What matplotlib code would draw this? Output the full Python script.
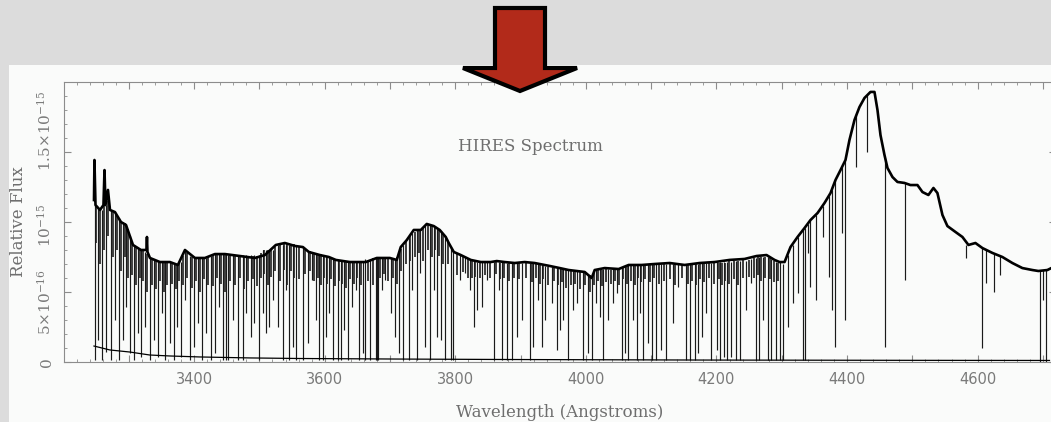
import matplotlib.pyplot as plt
from matplotlib.patches import Polygon, Rectangle
from matplotlib.ticker import MultipleLocator
from matplotlib.transforms import ScaledTranslation

plt.rcParams['mathtext.fontset'] = 'dejavuserif'

# upper envelope of the spectrum (flux in units of 1e-16)
cont_wave = [3246.7, 3247.4, 3249.0, 3255.9, 3261.2, 3262.8, 3264.3, 3268.1, 3271.2, 3278.8,
             3288.0, 3295.7, 3306.4, 3318.6, 3327.0, 3327.8, 3328.6, 3332.4, 3347.7, 3363.0,
             3375.2, 3386.0, 3401.3, 3416.6, 3431.9, 3447.2, 3470.1, 3493.1, 3508.4, 3525.2,
             3539.0, 3554.3, 3566.6, 3575.7, 3592.6, 3606.3, 3617.1, 3638.5, 3663.0, 3679.8,
             3699.7, 3710.4, 3716.5, 3725.7, 3736.4, 3747.2, 3756.3, 3767.0, 3776.2, 3785.4,
             3790.0, 3797.7, 3808.4, 3823.7, 3839.0, 3854.3, 3863.5, 3875.7, 3891.0, 3906.3,
             3921.6, 3944.6, 3959.9, 3973.7, 3998.2, 4008.9, 4013.5, 4028.8, 4050.2, 4065.5,
             4085.4, 4105.3, 4128.3, 4151.2, 4174.2, 4197.1, 4220.1, 4243.0, 4261.4, 4276.7,
             4289.0, 4296.6, 4304.3, 4313.4, 4324.2, 4334.9, 4344.0, 4354.8, 4365.5, 4374.7,
             4382.3, 4390.0, 4397.6, 4403.7, 4411.4, 4419.0, 4426.7, 4435.9, 4442.0, 4446.6,
             4451.2, 4457.3, 4461.9, 4469.6, 4477.2, 4487.9, 4497.1, 4507.8, 4515.5, 4524.6,
             4532.3, 4538.4, 4546.1, 4553.7, 4566.0, 4576.7, 4585.9, 4596.6, 4607.3, 4622.6,
             4637.9, 4653.2, 4668.5, 4683.8, 4693.0, 4706.8, 4712.9]
cont_flux = [11.57, 14.43, 11.21, 10.86, 11.21, 13.71, 11.21, 12.29, 10.86, 10.71,
             10.0, 9.79, 8.36, 8.0, 8.0, 8.93, 7.86, 7.43, 7.14, 7.14,
             6.93, 8.0, 7.43, 7.43, 7.71, 7.71, 7.57, 7.43, 7.64, 8.36,
             8.5, 8.29, 8.21, 7.86, 7.64, 7.5, 7.29, 7.14, 7.14, 7.43,
             7.43, 7.29, 8.21, 8.71, 9.43, 9.43, 9.86, 9.71, 9.43, 8.93,
             8.5, 7.86, 7.64, 7.29, 7.14, 7.14, 7.21, 7.14, 7.07, 7.14,
             7.07, 6.86, 6.71, 6.57, 6.43, 6.0, 6.57, 6.71, 6.64, 6.93,
             6.93, 7.0, 7.07, 6.93, 7.07, 7.14, 7.29, 7.36, 7.57, 7.64,
             7.29, 7.14, 7.14, 8.21, 8.93, 9.57, 10.14, 10.64, 11.36, 12.07,
             13.0, 13.71, 14.43, 15.86, 17.29, 18.21, 18.86, 19.29, 19.29, 18.0,
             16.21, 14.79, 13.86, 13.21, 12.86, 12.79, 12.64, 12.64, 12.14, 11.93,
             12.43, 12.07, 10.5, 9.71, 9.29, 8.93, 8.36, 8.5, 8.14, 7.79,
             7.5, 7.07, 6.71, 6.57, 6.5, 6.57, 6.71]

# error spectrum along the bottom
err_wave = [3246.7, 3271.0, 3302.0, 3332.0, 3363.0, 3409.0, 3486.0, 3562.0, 3716.0,
            3869.0, 4175.0, 4481.0, 4710.0]
err_flux = [1.14, 0.86, 0.71, 0.5, 0.43, 0.36, 0.29, 0.25, 0.21, 0.18, 0.14, 0.12, 0.11]

# strong absorption lines: wavelength, bottom of the line, continuum at the line
line_wave = [3248.7, 3252.8, 3258.9, 3265.0, 3272.2, 3278.4, 3284.5, 3291.1, 3296.1, 3301.3,
             3307.9, 3314.0, 3319.1, 3325.2, 3331.9, 3338.0, 3344.6, 3350.8, 3355.8, 3362.5,
             3369.1, 3374.2, 3380.3, 3386.4, 3393.1, 3399.7, 3405.9, 3412.0, 3418.6, 3425.3,
             3431.4, 3437.5, 3444.1, 3449.2,
             3451.3, 3459.0, 3466.6, 3474.3, 3479.3, 3487.0, 3492.0, 3499.7, 3504.9, 3509.9,
             3515.0, 3520.2, 3527.8, 3535.5, 3540.5, 3545.6, 3550.8, 3555.8, 3566.1, 3573.7,
             3580.3, 3586.4, 3591.5, 3596.7, 3601.8, 3606.8, 3612.0, 3619.7, 3624.7, 3629.8,
             3635.0, 3641.5, 3647.7, 3652.7, 3658.8,
             3662.5, 3669.1, 3678.3, 3680.3, 3682.1, 3687.9, 3693.1, 3700.8, 3708.4, 3713.5,
             3720.1, 3728.8, 3733.8, 3741.5, 3746.7, 3754.3, 3760.9, 3767.0, 3772.1, 3778.2,
             3785.0, 3793.5, 3796.6, 3807.9, 3815.6, 3823.2, 3828.3, 3833.3, 3841.0, 3848.6,
             3858.9, 3866.5, 3871.6,
             3878.8, 3886.4, 3894.1, 3901.7, 3914.4, 3919.6, 3926.2, 3932.3, 3937.4, 3947.6,
             3955.3, 3960.4, 3965.6, 3973.2, 3980.9, 3985.9, 3996.2, 4002.7, 4008.9, 4015.0,
             4021.6, 4026.8, 4034.4, 4042.1, 4047.1, 4054.8, 4059.8, 4065.0, 4072.7, 4077.7,
             4082.8,
             4087.4, 4095.0, 4101.8, 4107.9, 4115.5, 4123.2, 4133.3, 4140.9, 4153.8, 4158.9,
             4166.5, 4171.6, 4178.3, 4184.4, 4192.1, 4200.6, 4205.8, 4210.9, 4215.9, 4222.7,
             4230.3, 4235.4, 4245.6, 4253.3, 4260.9, 4264.9, 4271.0, 4278.7, 4283.9, 4291.6,
             4296.6, 4301.2,
             4308.8, 4316.5, 4324.2, 4331.8, 4334.9, 4339.5, 4344.0, 4351.7, 4362.4, 4371.6,
             4377.7, 4382.3, 4393.0, 4397.6, 4414.4, 4431.3, 4458.8, 4489.4, 4582.8, 4607.3,
             4613.4, 4625.7, 4634.8, 4696.1, 4700.6, 4705.2]
line_bottom = [0.14, 1.57, 0.14, 0.71, 0.14, 3.0, 0.14, 1.57, 3.93, 0.64,
               0.14, 2.07, 0.36, 2.5, 0.14, 1.57, 0.36, 3.5, 0.14, 1.36,
               0.14, 2.5, 0.36, 4.43, 0.14, 1.07, 2.79, 0.14, 2.07, 0.14,
               0.64, 3.93, 0.14, 0.14,
               0.14, 3.0, 0.14, 0.14, 3.5, 1.79, 2.79, 0.14, 3.5, 2.07,
               2.5, 4.43, 2.5, 0.14, 5.14, 0.14, 1.07, 0.14, 0.14, 1.36,
               5.86, 3.0, 0.14, 0.14, 1.79, 3.5, 0.14, 0.14, 0.14, 2.29,
               0.14, 3.93, 5.14, 0.14, 0.64,
               0.14, 0.14, 0.14, 0.14, 0.14, 5.14, 5.86, 3.5, 1.79, 0.64,
               0.14, 0.14, 5.14, 0.14, 6.36, 1.07, 0.14, 5.14, 1.79, 1.57,
               0.14, 0.14, 0.14, 5.86, 6.36, 5.14, 2.5, 3.71, 3.93, 5.86,
               0.14, 5.14, 0.14,
               0.14, 0.14, 1.79, 3.0, 0.14, 1.07, 4.43, 1.07, 3.0, 4.21,
               0.86, 2.29, 3.0, 0.14, 3.71, 4.21, 0.14, 0.64, 0.14, 4.21,
               3.21, 0.14, 3.0, 4.21, 4.93, 0.14, 0.64, 0.14, 3.0, 0.14,
               3.5,
               0.14, 1.36, 0.14, 0.14, 0.86, 0.14, 2.79, 5.36, 0.14, 0.14,
               0.14, 0.64, 1.79, 3.5, 0.14, 0.86, 0.14, 0.36, 0.14, 0.36,
               0.14, 0.14, 3.71, 5.64, 0.14, 0.14, 3.0, 0.14, 0.14, 0.14,
               0.14, 0.14,
               2.5, 4.21, 4.93, 0.14, 0.14, 7.79, 5.36, 4.43, 8.93, 6.07,
               3.71, 1.07, 9.21, 3.0, 13.93, 15.0, 1.07, 5.86, 7.43, 1.0,
               5.64, 5.0, 6.21, 0.0, 4.43, 0.0]
line_top = [11.21, 11.0, 10.86, 11.21, 10.86, 10.71, 10.29, 10.0, 9.79, 9.0,
            8.36, 8.14, 8.0, 7.86, 7.5, 7.36, 7.21, 7.14, 7.14, 7.14,
            7.0, 7.0, 7.14, 8.0, 7.57, 7.43, 7.43, 7.43, 7.43, 7.57,
            7.71, 7.71, 7.71, 7.71,
            7.64, 7.64, 7.64, 7.64, 7.64, 7.64, 7.64, 7.64, 8.0, 8.0,
            8.0, 8.0, 8.36, 8.36, 8.36, 8.36, 8.36, 8.36, 8.21, 7.86,
            7.86, 7.71, 7.71, 7.64, 7.57, 7.5, 7.36, 7.29, 7.21, 7.21,
            7.14, 7.14, 7.14, 7.14, 7.14,
            7.36, 7.36, 7.43, 7.43, 7.43, 7.43, 7.43, 7.43, 7.36, 7.8,
            8.36, 8.86, 9.21, 9.43, 9.5, 9.79, 9.86, 9.71, 9.57, 9.36,
            9.0, 8.21, 7.93, 7.64, 7.5, 7.29, 7.21, 7.14, 7.14, 7.14,
            7.14, 7.14, 7.14,
            7.07, 7.07, 7.07, 7.07, 7.07, 7.07, 7.0, 6.93, 6.86, 6.79,
            6.79, 6.71, 6.71, 6.57, 6.5, 6.5, 6.43, 6.3, 6.0, 6.64,
            6.64, 6.64, 6.64, 6.64, 6.64, 6.79, 6.86, 6.93, 6.93, 6.93,
            6.93,
            7.0, 7.0, 7.0, 7.0, 7.0, 7.0, 7.0, 7.0, 7.0, 7.0,
            7.0, 7.0, 7.07, 7.07, 7.07, 7.14, 7.14, 7.14, 7.14, 7.14,
            7.21, 7.21, 7.21, 7.36, 7.43, 7.5, 7.5, 7.5, 7.36, 7.14,
            7.14, 7.0,
            7.64, 8.36, 8.93, 9.43, 9.57, 9.86, 10.14, 10.5, 11.14, 11.86,
            12.29, 13.0, 13.93, 14.43, 17.64, 19.07, 14.6, 12.79, 8.36, 8.14,
            8.0, 7.71, 7.57, 6.57, 6.57, 6.57]

# weaker forest lines that make the dark band under the continuum
weak_wave = [3250.5, 3255.5, 3262.0, 3268.5, 3275.5, 3281.5, 3287.8, 3293.6, 3298.8, 3304.5,
             3311.0, 3316.5, 3322.0, 3328.5, 3335.0, 3341.3, 3347.7, 3353.3, 3359.0, 3365.8,
             3371.6, 3377.2, 3383.3, 3389.7, 3396.4, 3402.8, 3409.0, 3415.3, 3422.0, 3428.4,
             3434.5, 3440.8, 3446.6,
             3455.0, 3462.8, 3470.5, 3476.8, 3483.0, 3489.5, 3495.8, 3502.3, 3507.4, 3512.5,
             3517.6, 3524.0, 3531.6, 3538.0, 3543.0, 3548.2, 3553.3, 3561.0, 3569.9, 3577.0,
             3583.3, 3589.0, 3594.1, 3599.2, 3604.3, 3609.4, 3615.8, 3622.2, 3627.2, 3632.4,
             3638.2, 3644.6, 3650.2, 3655.7,
             3665.8, 3673.7, 3685.0, 3690.5, 3697.0, 3704.6, 3711.0, 3716.8, 3724.5, 3731.3,
             3737.6, 3744.0, 3750.5, 3757.6, 3764.0, 3769.5, 3775.2, 3781.6, 3789.2, 3802.0,
             3811.8, 3819.4, 3825.8, 3830.8, 3837.2, 3844.8, 3853.7, 3862.7, 3869.0, 3875.2,
             3882.6, 3890.2, 3897.9, 3908.0, 3917.0, 3922.9, 3929.3, 3934.9, 3942.5, 3951.5,
             3957.9, 3963.0, 3969.4, 3977.0, 3983.4, 3991.0, 3999.4, 4005.8, 4012.0, 4018.3,
             4024.2, 4030.6, 4038.2, 4044.6, 4051.0, 4057.3, 4062.4, 4068.8, 4075.2, 4080.3,
             4085.0,
             4091.2, 4098.4, 4104.8, 4111.7, 4119.3, 4128.2, 4137.1, 4147.3, 4156.3, 4162.7,
             4169.0, 4175.0, 4181.3, 4188.2, 4196.3, 4203.2, 4208.3, 4213.4, 4219.3, 4226.5,
             4232.8, 4240.5, 4249.4, 4257.0, 4262.9, 4268.0, 4274.8, 4281.3, 4287.7, 4294.0]
weak_bottom = [8.5, 7.0, 8.0, 9.0, 7.5, 8.0, 6.5, 7.5, 6.0, 6.2,
               5.5, 6.0, 5.8, 5.0, 5.5, 5.2, 5.8, 5.0, 5.5, 5.6,
               5.2, 5.8, 5.5, 6.0, 5.3, 5.8, 5.0, 5.9, 5.5, 5.4,
               6.0, 5.6, 5.0,
               5.8, 5.5, 6.0, 5.2, 5.8, 5.9, 5.4, 6.0, 6.3, 5.5,
               6.1, 6.5, 5.8, 6.6, 5.5, 6.5, 6.0, 5.9, 6.3, 6.5,
               5.8, 6.0, 5.5, 6.0, 5.6, 5.9, 5.4, 5.8, 5.6, 5.3,
               5.9, 5.6, 6.0, 5.5,
               5.8, 5.5, 6.0, 6.3, 5.8, 6.0, 5.6, 6.5, 7.0, 7.2,
               7.5, 7.8, 7.2, 8.0, 7.5, 8.0, 7.6, 7.0, 7.0, 6.2,
               6.4, 6.0, 6.0, 6.1, 6.0, 6.2, 6.0, 6.3, 5.9, 6.0,
               5.8, 6.0, 5.9, 6.0, 5.7, 6.0, 5.6, 5.9, 5.5, 5.8,
               5.5, 5.7, 5.3, 5.5, 5.6, 5.2, 5.5, 5.0, 5.5, 5.8,
               5.4, 5.7, 5.6, 5.8, 5.5, 5.9, 5.6, 5.8, 5.5, 6.0,
               5.7,
               5.9, 5.7, 6.0, 5.6, 5.8, 5.9, 5.5, 6.0, 5.6, 5.8,
               5.5, 5.9, 5.7, 6.0, 5.6, 5.9, 5.5, 5.8, 5.6, 5.9,
               5.5, 6.0, 6.1, 6.0, 6.2, 5.8, 6.0, 5.9, 5.7, 5.8]
weak_top = [11.2, 11.0, 11.2, 11.5, 10.8, 10.5, 10.1, 9.9, 9.5, 8.6,
            8.2, 8.1, 7.9, 7.7, 7.4, 7.3, 7.2, 7.1, 7.1, 7.0,
            7.0, 7.1, 7.6, 7.8, 7.5, 7.4, 7.4, 7.4, 7.5, 7.7,
            7.7, 7.7, 7.7,
            7.6, 7.6, 7.6, 7.6, 7.6, 7.6, 7.6, 7.8, 8.0, 8.0,
            8.0, 8.2, 8.4, 8.4, 8.4, 8.4, 8.4, 8.3, 8.0, 7.9,
            7.8, 7.7, 7.7, 7.6, 7.5, 7.4, 7.3, 7.2, 7.2, 7.2,
            7.1, 7.1, 7.1, 7.1,
            7.3, 7.4, 7.4, 7.4, 7.4, 7.4, 7.5, 8.1, 8.6, 9.0,
            9.3, 9.4, 9.6, 9.8, 9.8, 9.6, 9.4, 9.2, 8.6, 7.7,
            7.6, 7.4, 7.2, 7.2, 7.1, 7.1, 7.1, 7.2, 7.1, 7.1,
            7.1, 7.1, 7.1, 7.1, 7.1, 7.0, 7.0, 6.9, 6.8, 6.8,
            6.7, 6.7, 6.6, 6.5, 6.5, 6.4, 6.4, 6.2, 6.5, 6.6,
            6.6, 6.7, 6.6, 6.6, 6.7, 6.8, 6.9, 6.9, 6.9, 6.9,
            6.9,
            7.0, 7.0, 7.0, 7.0, 7.0, 7.0, 7.0, 7.0, 7.0, 7.0,
            7.0, 7.0, 7.1, 7.1, 7.1, 7.1, 7.1, 7.1, 7.2, 7.2,
            7.2, 7.3, 7.3, 7.4, 7.5, 7.5, 7.5, 7.4, 7.2, 7.1]

xtick_values = [3300, 3400, 3500, 3600, 3700, 3800, 3900, 4000, 4100, 4200, 4300, 4400, 4500, 4600, 4700]
xtick_labels = ['', '3400', '', '3600', '', '3800', '', '4000', '', '4200', '', '4400', '', '4600', '']
ytick_values = [0, 5, 10, 15]
ytick_labels = ['0', '5×10$^{-16}$', '10$^{-15}$', '1.5×10$^{-15}$']

W, H = 1051, 422
fig = plt.figure(figsize=(W / 100, H / 100), dpi=100, facecolor='#dcdcdc')

# white slide panel behind the plot
fig.patches.append(Rectangle((9 / W, 0), 1, (H - 65) / H, transform=fig.transFigure,
                             facecolor='#fafbfa', edgecolor='none', zorder=-1))

ax = fig.add_axes([63.5 / W, 60 / H, 992.5 / W, 280 / H])
ax.patch.set_visible(False)

ax.vlines(weak_wave, weak_bottom, weak_top, color='#303030', lw=1.3)
ax.vlines(line_wave, line_bottom, line_top, color='#1a1a1a', lw=0.85)
ax.plot(cont_wave, cont_flux, color='black', lw=1.9, solid_joinstyle='round')
ax.plot(err_wave, err_flux, color='black', lw=0.9)

ax.set_xlim(3200, 4720)
ax.set_ylim(0, 20)

grey = '#7a7a7a'
for s in ax.spines.values():
    s.set_color('#8c8c8c')
    s.set_linewidth(0.8)

ax.set_xticks(xtick_values, xtick_labels)
ax.set_yticks(ytick_values, ytick_labels, rotation=90, va='center', family='DejaVu Serif')
ax.xaxis.set_minor_locator(MultipleLocator(20))
ax.yaxis.set_minor_locator(MultipleLocator(1))
ax.tick_params(which='both', direction='in', top=True, right=True, colors='#8c8c8c',
               labelcolor=grey)
ax.tick_params(which='major', length=5, width=0.8)
ax.tick_params(which='minor', length=2, width=0.6)
ax.tick_params(axis='x', labelsize=10.5, pad=7)
ax.tick_params(axis='y', labelsize=11, pad=7)

# the y labels sit unevenly against their ticks in the original
for tick, dy in zip(ax.yaxis.get_major_ticks(), [0, -10, -3, 21]):
    tick.label1.set_transform(tick.label1.get_transform()
                              + ScaledTranslation(0, dy / 100, fig.dpi_scale_trans))

ax.set_xlabel('Wavelength (Angstroms)', family='DejaVu Serif', fontsize=12, color='#6e6e6e')
ax.xaxis.set_label_coords(0.5, -0.15)
ax.xaxis.label.set_va('top')
ax.set_ylabel('Relative Flux', family='DejaVu Serif', fontsize=12, color='#6e6e6e')
ax.yaxis.set_label_coords(-0.037, 0.5)

ax.text(3915, 15.4, 'HIRES Spectrum', family='DejaVu Serif', fontsize=12,
        color='#6e6e6e', ha='center', va='center')

# red arrow pointing down at the slide
arrow_px = [(495, 8), (545, 8), (545, 68), (577, 68), (520, 91), (463, 68), (495, 68)]
fig.patches.append(Polygon([(x / W, 1 - y / H) for x, y in arrow_px], closed=True,
                           transform=fig.transFigure, facecolor='#b22a1a',
                           edgecolor='black', lw=3, joinstyle='miter', zorder=10))

fig.savefig('out.png', dpi=100, facecolor=fig.get_facecolor())
